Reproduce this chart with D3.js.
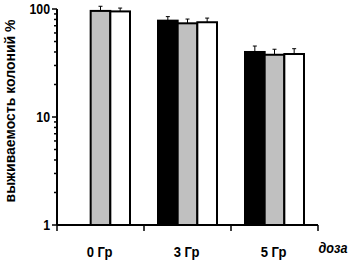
<!DOCTYPE html>
<html>
<head>
<meta charset="utf-8">
<script src="https://cdn.jsdelivr.net/npm/d3@7"></script>
<style>
  body { margin: 0; background: #fff; }
  svg text { font-family: "Liberation Sans", Arial, sans-serif; font-weight: bold; }
</style>
</head>
<body>
<div id="chart"></div>
<script>
// data
var categories = ["0 Гр", "3 Гр", "5 Гр"];
var seriesNames = ["black", "gray", "white"];
var blackValues = [null, 78, 40];
var grayValues = [96, 73.7, 37.7];
var whiteValues = [95, 75.4, 38.3];
var blackErr = [null, 7, 5.4];
var grayErr = [10, 7, 4.7];
var whiteErr = [7, 7, 4.6];
var yTicks = [1, 10, 100];

var fills = { black: "#000", gray: "#c0c0c0", white: "#fff" };

var width = 349, height = 266;
var svg = d3.select("#chart").append("svg")
  .attr("width", width).attr("height", height);

// scales
var x = d3.scaleBand().domain(categories).range([57, 318]).paddingInner(0).paddingOuter(0);
var xs = d3.scaleBand().domain(seriesNames).range([14, x.bandwidth() - 14]);
var y = d3.scaleLog().domain([1, 100]).range([225, 9]);

// build rows
var rows = [];
categories.forEach(function (c, i) {
  rows.push({ cat: c, s: "black", v: blackValues[i], e: blackErr[i] });
  rows.push({ cat: c, s: "gray", v: grayValues[i], e: grayErr[i] });
  rows.push({ cat: c, s: "white", v: whiteValues[i], e: whiteErr[i] });
});
rows = rows.filter(function (d) { return d.v != null; });

// error bars (upward only)
var eb = svg.append("g").attr("stroke", "#000").attr("stroke-width", 1);
rows.forEach(function (d) {
  var cx = x(d.cat) + xs(d.s) + xs.bandwidth() / 2;
  eb.append("line").attr("x1", cx).attr("x2", cx)
    .attr("y1", y(d.v)).attr("y2", y(d.v + d.e));
  eb.append("line").attr("x1", cx - 2).attr("x2", cx + 2)
    .attr("y1", y(d.v + d.e)).attr("y2", y(d.v + d.e));
});

// bars
svg.append("g").selectAll("rect").data(rows).enter().append("rect")
  .attr("x", function (d) { return x(d.cat) + xs(d.s); })
  .attr("y", function (d) { return y(d.v); })
  .attr("width", xs.bandwidth())
  .attr("height", function (d) { return y(1) - y(d.v); })
  .attr("fill", function (d) { return fills[d.s]; })
  .attr("stroke", "#000")
  .attr("stroke-width", 2);

// y axis with minor ticks
var allTicks = y.ticks(10);
var yAxis = svg.append("g").attr("transform", "translate(57,0)");
yAxis.append("line").attr("x1", 0).attr("x2", 0)
  .attr("y1", y(100)).attr("y2", y(1)).attr("stroke", "#000").attr("stroke-width", 2);
yAxis.selectAll(".tk").data(allTicks).enter().append("line")
  .attr("x1", function (d) { return yTicks.indexOf(d) >= 0 ? -5 : -3; })
  .attr("x2", 0)
  .attr("y1", function (d) { return y(d); })
  .attr("y2", function (d) { return y(d); })
  .attr("stroke", "#000").attr("stroke-width", 1.5);
yAxis.selectAll(".lbl").data(yTicks).enter().append("text")
  .attr("transform", function (d) { return "translate(-7," + (y(d) + 5) + ") scale(0.85,1)"; })
  .attr("text-anchor", "end")
  .style("font-size", "14.5px")
  .text(function (d) { return d; });

// x axis
svg.append("line").attr("x1", 57).attr("x2", 318)
  .attr("y1", 225).attr("y2", 225).attr("stroke", "#000").attr("stroke-width", 2);
var xEdges = categories.map(function (c) { return x(c); }).concat([x.range()[1]]);
svg.selectAll(".xt").data(xEdges).enter().append("line")
  .attr("x1", function (d) { return d; }).attr("x2", function (d) { return d; })
  .attr("y1", 225).attr("y2", 231).attr("stroke", "#000").attr("stroke-width", 1.5);
svg.selectAll(".xl").data(categories).enter().append("text")
  .attr("transform", function (d) { return "translate(" + (x(d) + x.bandwidth() / 2 - 1) + ",257) scale(0.9,1)"; })
  .attr("text-anchor", "middle")
  .style("font-size", "14.5px")
  .text(function (d) { return d; });

// axis titles
svg.append("text")
  .attr("transform", "translate(333,253) scale(0.9,1)")
  .attr("text-anchor", "middle")
  .style("font-size", "14px").style("font-style", "italic")
  .text("доза");
svg.append("text")
  .attr("transform", "translate(15,111) rotate(-90)")
  .attr("text-anchor", "middle")
  .style("font-size", "14px")
  .text("выживаемость колоний %");
</script>
</body>
</html>
